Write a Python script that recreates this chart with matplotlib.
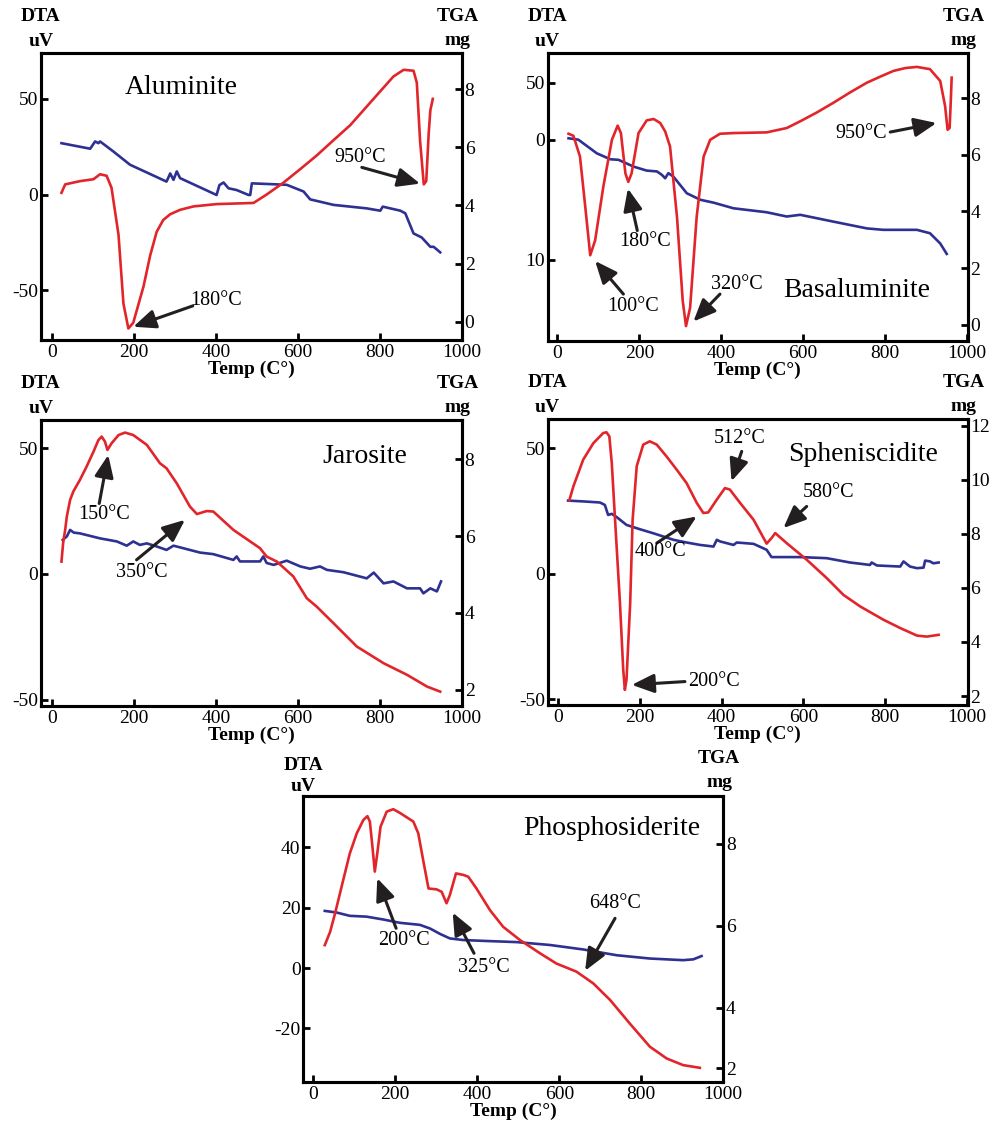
import matplotlib.pyplot as plt

plt.rcParams['font.family'] = ['Liberation Serif', 'DejaVu Serif']
plt.rcParams['font.size'] = 14
plt.rcParams['axes.unicode_minus'] = False

RED = '#e2252b'
BLUE = '#2e3192'
ARROW = '#231f20'

temp_ticks = [0, 200, 400, 600, 800, 1000]

# ---- Aluminite ----
al_t = [24, 33, 69, 102, 118, 134, 146, 163, 175, 187, 199, 224, 240, 256, 272, 289, 313, 346,
        402, 492, 524, 565, 606, 646, 687, 728, 768, 809, 833, 858, 882, 890, 898, 907, 913,
        919, 923, 929]
al_dta = [0.9, 5.3, 7, 8, 10.6, 9.8, 3.5, -21, -57, -70, -67, -48, -32, -19.5, -13.3, -10.3,
          -8, -6.2, -5, -4.4, 0, 6.2, 13.3, 20.4, 28.4, 36.3, 46, 55.9, 61.7, 65.2, 64.7, 58.5,
          28, 5.3, 7, 32, 44, 50]
al_tga_t = [24, 94, 106, 114, 118, 150, 191, 280, 289, 297, 305, 313, 402, 409, 419, 431, 451,
            480, 484, 488, 573, 614, 630, 687, 768, 801, 807, 850, 862, 882, 902, 923, 931, 947]
al_tga = [6.14, 5.95, 6.2, 6.14, 6.2, 5.86, 5.4, 4.82, 5.1, 4.88, 5.17, 4.94, 4.36, 4.7, 4.79,
          4.59, 4.53, 4.36, 4.36, 4.76, 4.71, 4.48, 4.21, 4.02, 3.9, 3.82, 3.96, 3.82, 3.73,
          3.04, 2.9, 2.58, 2.58, 2.39]

# ---- Basaluminite ----
ba_t = [27, 39, 55, 68, 80, 92, 112, 133, 147, 155, 166, 173, 181, 198, 218, 235, 251, 263,
        275, 292, 306, 314, 324, 340, 357, 373, 397, 430, 511, 560, 593, 634, 674, 715, 756,
        790, 821, 850, 878, 910, 935, 947, 953, 958, 961, 963]
ba_dta = [5.3, 3.5, -14.7, -59, -101, -88, -41, 0, 12.4, 5.9, -29.4, -36.8, -29.4, 5.9, 17,
          18.2, 14.7, 7.4, -5.9, -67.6, -141, -163, -147, -67.6, -14.7, 0, 5.3, 5.9, 6.5, 10.3,
          16.2, 24, 32.4, 41.5, 50, 55.5, 60.3, 62.8, 63.8, 61.8, 51.5, 29.4, 8.8, 10.3, 35.3,
          54.4]
ba_tga_t = [27, 51, 96, 129, 149, 186, 218, 243, 255, 263, 271, 283, 316, 349, 381, 430, 511,
            560, 593, 674, 715, 756, 796, 878, 910, 935, 951]
ba_tga = [6.58, 6.53, 6.05, 5.84, 5.82, 5.58, 5.44, 5.41, 5.29, 5.17, 5.35, 5.23, 4.64, 4.41,
          4.31, 4.11, 3.97, 3.82, 3.88, 3.64, 3.52, 3.4, 3.35, 3.35, 3.23, 2.87, 2.5]

# ---- Jarosite ----
ja_t = [24, 28, 33, 37, 45, 53, 69, 85, 102, 114, 122, 130, 136, 146, 163, 179, 199, 232, 264,
        280, 305, 337, 354, 378, 394, 443, 508, 524, 549, 589, 622, 646, 687, 744, 809, 866,
        915, 947]
ja_dta = [4.9, 12.2, 17.5, 22.8, 29.4, 32.8, 37.4, 42.6, 48.6, 53.2, 54.6, 52.6, 49.3, 51.9,
          55.2, 56.2, 55.2, 51.3, 44, 42, 36, 26.8, 23.8, 25, 24.8, 17.5, 10.2, 6.9, 4.9, -1,
          -9.7, -13, -19.6, -28.9, -35.5, -40.1, -44.8, -46.8]
ja_tga_t = [27, 37, 45, 54, 69, 118, 159, 183, 199, 215, 232, 256, 280, 297, 362, 394, 443,
            451, 459, 508, 516, 524, 541, 573, 606, 630, 654, 671, 711, 768, 785, 809, 833,
            866, 898, 906, 923, 939, 949]
ja_tga = [5.9, 5.99, 6.16, 6.09, 6.07, 5.94, 5.86, 5.75, 5.86, 5.77, 5.81, 5.73, 5.64, 5.75,
          5.57, 5.53, 5.38, 5.47, 5.34, 5.34, 5.47, 5.3, 5.25, 5.36, 5.21, 5.15, 5.21, 5.12,
          5.06, 4.9, 5.05, 4.77, 4.82, 4.64, 4.64, 4.51, 4.64, 4.56, 4.82]

# ---- Spheniscidite ----
sp_t = [27, 37, 61, 86, 110, 118, 125, 131, 139, 151, 159, 163, 167, 176, 182, 192, 208, 224,
        241, 265, 290, 314, 339, 355, 367, 388, 408, 420, 445, 478, 510, 522, 531, 559, 608,
        657, 698, 739, 796, 837, 878, 902, 931]
sp_dta = [29.2, 34.8, 45.4, 52, 56, 56.3, 54.7, 44, 21.5, -11.7, -38.2, -46.2, -42.2, -11.7,
          21.5, 42.8, 51.4, 52.7, 51.4, 46.7, 41.4, 36.1, 28.2, 24.2, 24.4, 29.5, 34.1, 33.5,
          28.2, 21.5, 12, 14.2, 16.2, 12.2, 5.6, -1.7, -8.4, -13, -18.3, -21.6, -24.6, -25,
          -24.3]
sp_tga_t = [24, 61, 102, 114, 122, 131, 143, 167, 200, 233, 282, 314, 347, 380, 388, 396, 429,
            437, 478, 510, 522, 592, 657, 714, 763, 767, 780, 837, 845, 861, 878, 894, 898,
            910, 918, 931]
sp_tga = [9.23, 9.2, 9.16, 9.07, 8.7, 8.74, 8.62, 8.33, 8.17, 8.02, 7.78, 7.68, 7.59, 7.53,
          7.78, 7.72, 7.59, 7.68, 7.63, 7.41, 7.14, 7.14, 7.1, 6.94, 6.85, 6.94, 6.83, 6.79,
          6.98, 6.79, 6.73, 6.75, 7.01, 6.98, 6.91, 6.94]

# ---- Phosphosiderite ----
ph_t = [28, 41, 53, 73, 89, 106, 122, 132, 138, 145, 150, 156, 164, 179, 195, 211, 228, 244,
        256, 268, 281, 301, 313, 325, 333, 348, 366, 378, 398, 431, 463, 504, 553, 593, 642,
        683, 724, 772, 821, 862, 902, 943]
ph_dta = [7.6, 12, 18.1, 29.2, 38, 44.7, 49.1, 50.4, 48.6, 39.2, 32, 38, 46.9, 51.9, 52.7,
          51.5, 50, 48.6, 44.7, 35.8, 26.4, 26.1, 25.3, 21.5, 24.2, 31.4, 30.9, 30.3, 26.4,
          19.2, 13.7, 9.3, 4.9, 1.5, -1.2, -5.1, -10.6, -18.4, -26.1, -30, -32.2, -33.1]
ph_tga_t = [28, 57, 89, 130, 171, 211, 260, 285, 309, 333, 366, 415, 496, 577, 659, 740, 821,
            902, 927, 947]
ph_tga = [6.36, 6.32, 6.24, 6.22, 6.15, 6.07, 6.02, 5.93, 5.8, 5.69, 5.65, 5.63, 5.6, 5.53,
          5.42, 5.28, 5.2, 5.16, 5.18, 5.26]

fig = plt.figure(figsize=(9.99, 11.29), dpi=100)


def panel(rect, xlim, dta_t, dta, tga_t, tga, dta_lim, tga_lim, dta_ticks, tga_ticks,
          name, name_xy, notes, dta_labels=None, tga_labels=None, head=(26, 8.5, 26, 9)):
    ax = fig.add_axes(rect)
    tw = ax.twinx()
    ax.set_zorder(tw.get_zorder() + 1)
    ax.patch.set_visible(False)

    tw.plot(tga_t, tga, color=BLUE, lw=1.9, solid_joinstyle='round')
    ax.plot(dta_t, dta, color=RED, lw=1.9, solid_joinstyle='round')

    ax.set_xlim(*xlim)
    ax.set_ylim(*dta_lim)
    tw.set_ylim(*tga_lim)
    ax.set_xticks(temp_ticks)
    ax.set_yticks(dta_ticks)
    tw.set_yticks(tga_ticks)
    if dta_labels:
        ax.set_yticklabels(dta_labels)
    if tga_labels:
        tw.set_yticklabels(tga_labels)

    for a in (ax, tw):
        for s in a.spines.values():
            s.set_linewidth(2.2)
        a.tick_params(direction='in', length=5, width=2, pad=2, labelsize=14)
    ax.tick_params(axis='x', pad=3)

    ax.set_xlabel('Temp (C°)', fontweight='bold', fontsize=14, labelpad=0)

    d1, d2, t1, t2 = head
    for txt, x, dy in [('DTA', 0, d1), ('uV', 0, d2), ('TGA', 1, t1), ('mg', 1, t2)]:
        ax.annotate(txt, xy=(x, 1), xycoords='axes fraction', xytext=(-3 * x, dy),
                    textcoords='offset points', ha='center', va='center',
                    fontweight='bold', fontsize=14)

    ax.text(name_xy[0], name_xy[1], name, fontsize=20, ha='center', va='center')

    for label, lx, ly, tail, tip in notes:
        ax.annotate('', xy=tip, xytext=tail,
                    arrowprops=dict(arrowstyle='-|>,head_length=0.75,head_width=0.32',
                                    color=ARROW, lw=2.2, mutation_scale=18,
                                    shrinkA=0, shrinkB=0))
        ax.text(lx, ly, label, fontsize=14.5, ha='center', va='center')
    return ax


panel([0.0410, 0.6989, 0.4214, 0.2542], (-26, 1000), al_t, al_dta, al_tga_t, al_tga,
      (-76, 74), (-0.62, 9.24), [-50, 0, 50], [0, 2, 4, 6, 8],
      'Aluminite', (317, 56),
      [('180°C', 400, -55.5, (344, -58.2), (199, -69.1)),
       ('950°C', 752, 19.5, (756, 14.2), (898, 5.7))])

panel([0.5482, 0.6980, 0.4204, 0.2551], (-24, 1002), ba_t, ba_dta, ba_tga_t, ba_tga,
      (-176, 76), (-0.57, 9.59), [-105, 0, 50], [0, 2, 4, 6, 8],
      'Basaluminite', (730, -132),
      [('950°C', 743, 5.9, (813, 6.8), (926, 14.7)),
       ('180°C', 213, -88.8, (195, -79.4), (172, -42.6)),
       ('100°C', 184, -145.6, (161, -135), (92, -106)),
       ('320°C', 438, -126.5, (397, -135), (332, -159))],
      dta_labels=['10', '0', '50'])

panel([0.0410, 0.3747, 0.4214, 0.2533], (-26, 1000), ja_t, ja_dta, ja_tga_t, ja_tga,
      (-52.5, 61.2), (1.58, 9.02), [-50, 0, 50], [2, 4, 6, 8],
      'Jarosite', (763, 46.6),
      [('150°C', 128, 23.8, (116, 28), (138, 47.3)),
       ('350°C', 220, 0.7, (207, 5.6), (325, 21.5))])

panel([0.5482, 0.3756, 0.4204, 0.2533], (-26, 1002), sp_t, sp_dta, sp_tga_t, sp_tga,
      (-52.2, 61.6), (1.67, 12.25), [-50, 0, 50], [2, 4, 6, 8, 10, 12],
      'Spheniscidite', (747, 47.4),
      [('512°C', 445, 54, (449, 48.7), (424, 36.8)),
       ('580°C', 661, 32.5, (608, 26.8), (551, 18.2)),
       ('400°C', 249, 8.9, (241, 12.2), (339, 22.8)),
       ('200°C', 382, -42.9, (310, -42.9), (180, -44.2))])

panel([0.3036, 0.0419, 0.4204, 0.2531], (-24.4, 1000), ph_t, ph_dta, ph_tga_t, ph_tga,
      (-37.7, 57.1), (2.2, 9.16), [-20, 0, 20, 40], [2.53, 4, 6, 8],
      'Phosphosiderite', (728, 46.3),
      [('200°C', 221, 9.3, (202, 13.2), (156, 29.8)),
       ('325°C', 416, 0.2, (392, 4.9), (340, 18.4)),
       ('648°C', 736, 21.5, (736, 16.5), (663, -0.9))],
      tga_labels=['2', '4', '6', '8'], head=(22, 6.5, 27, 10))

fig.savefig('out.png', dpi=100)
